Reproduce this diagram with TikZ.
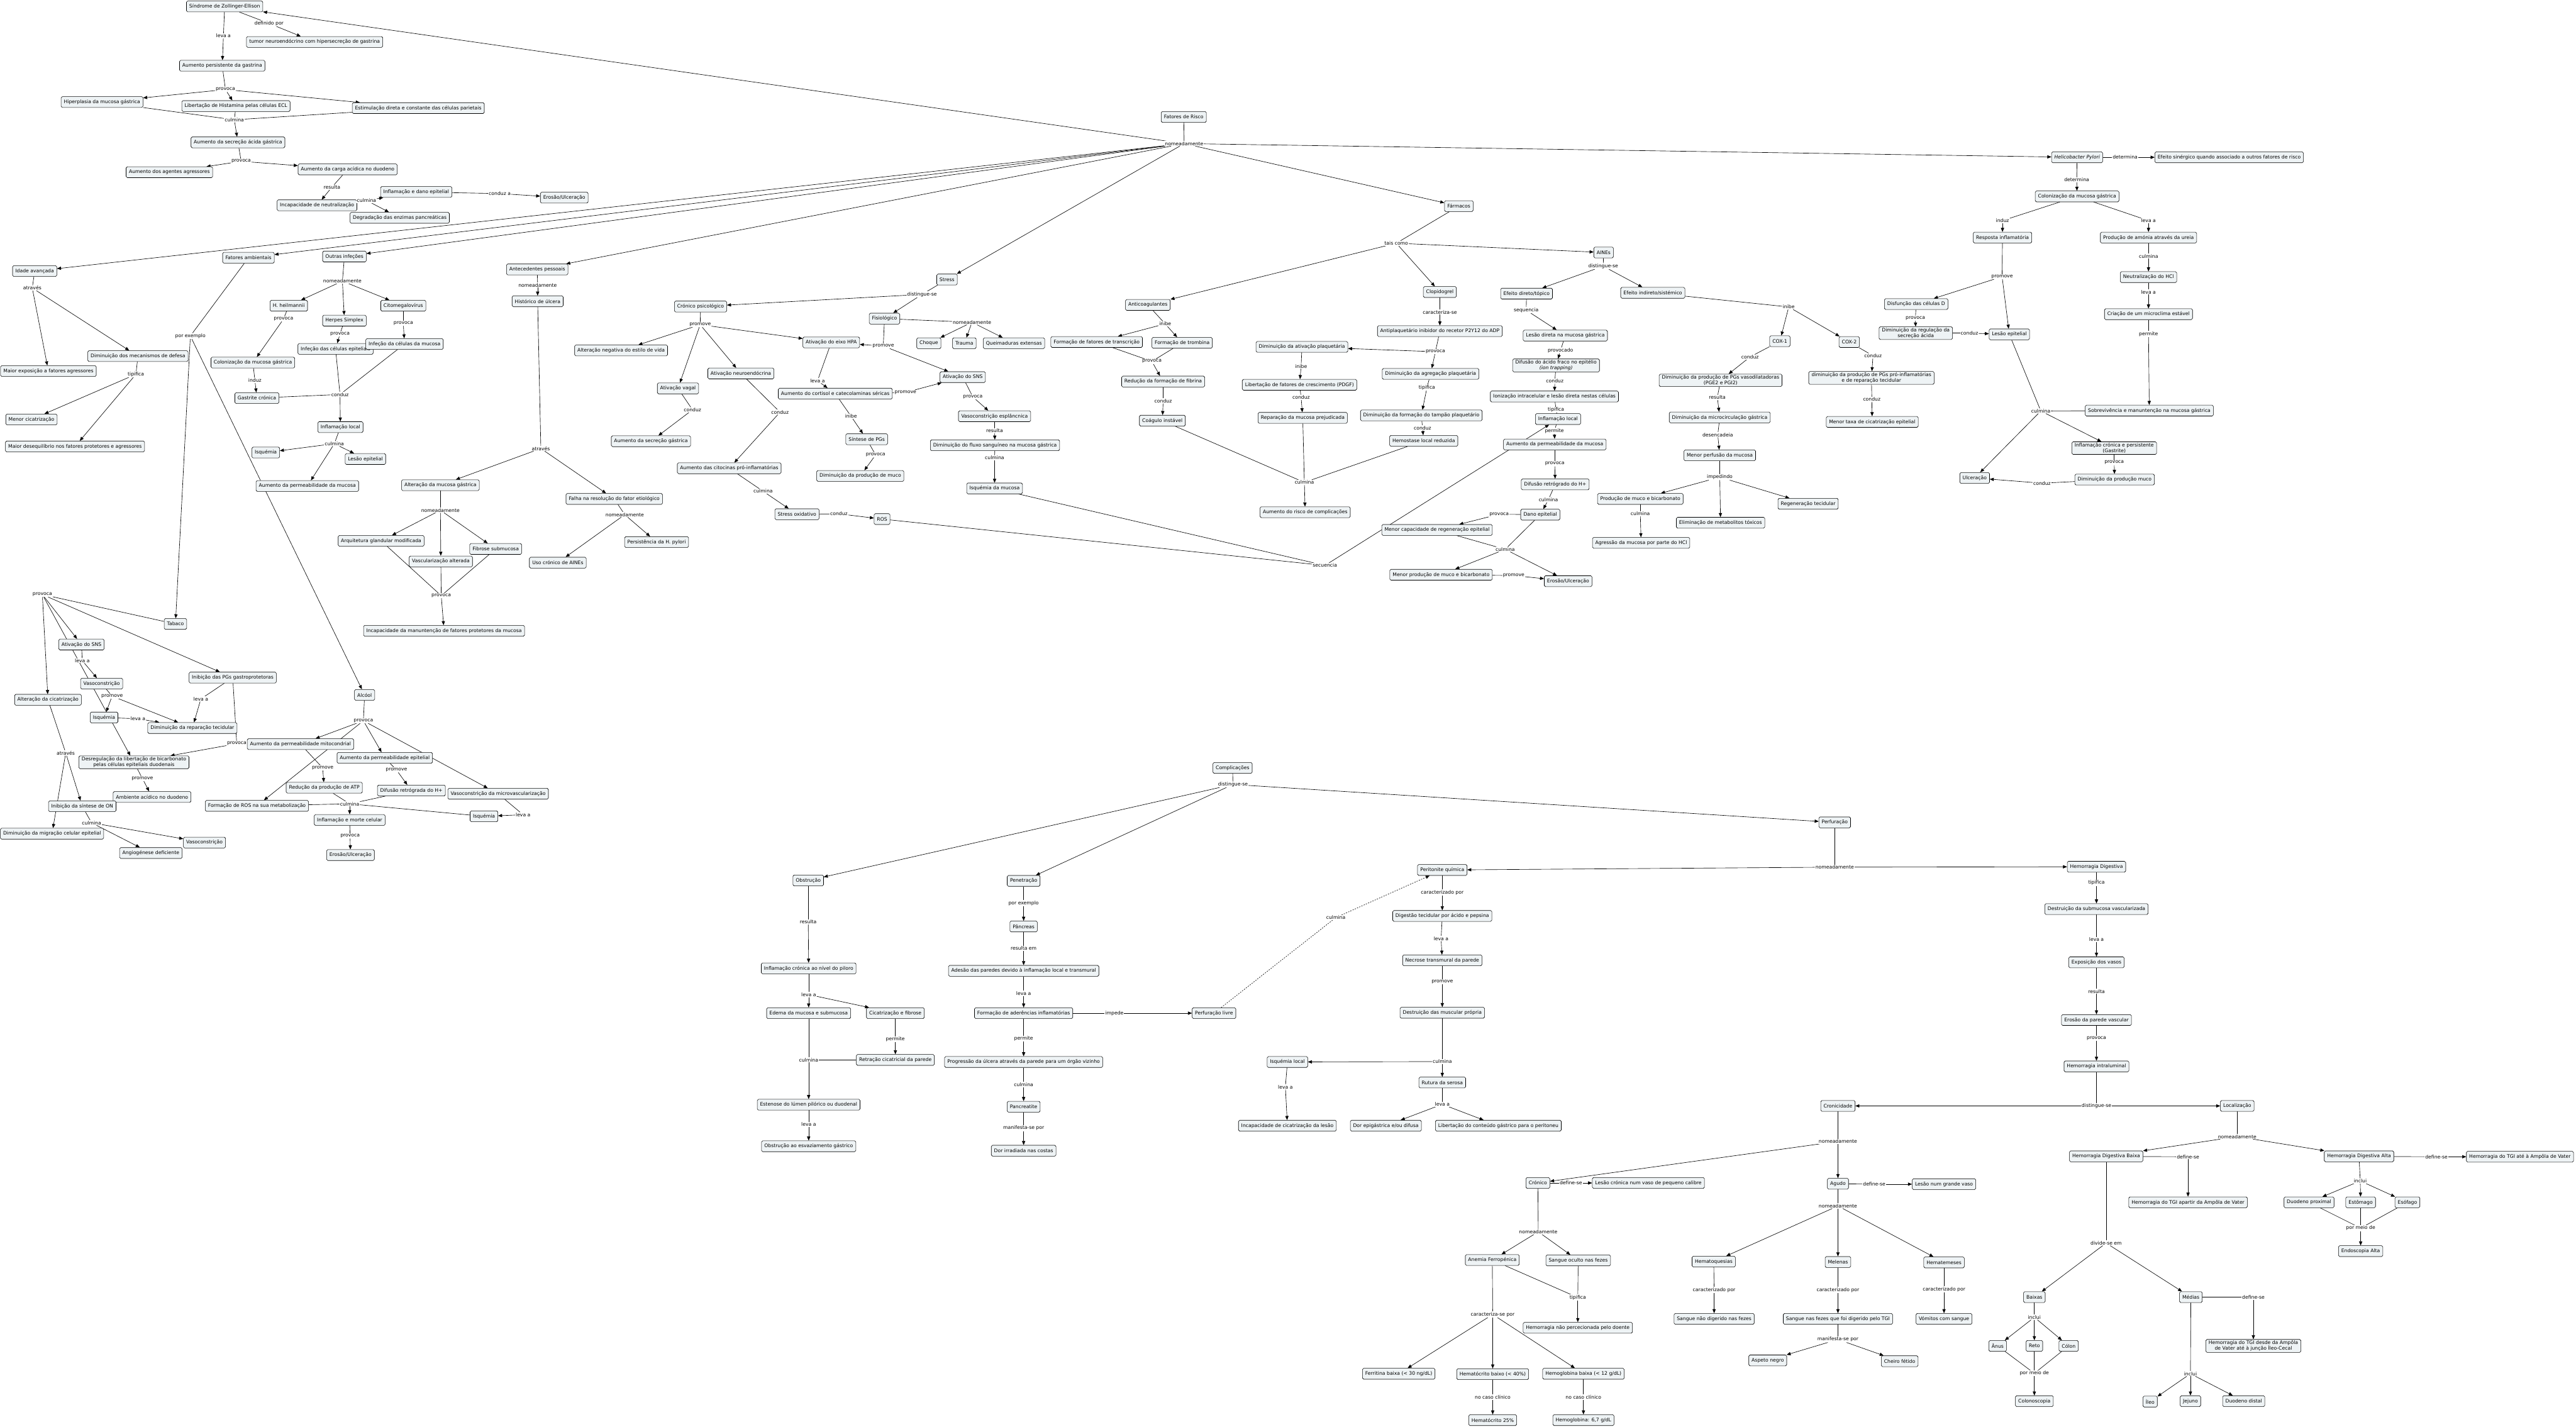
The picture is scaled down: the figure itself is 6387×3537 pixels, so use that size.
\documentclass[tikz,border=0pt]{standalone}
\usepackage{fontspec}
\setmainfont{DejaVu Sans}
\usetikzlibrary{arrows.meta}
\definecolor{cptfill}{HTML}{EEF3F5}
\pgfdeclarelayer{bg}
\pgfsetlayers{bg,main}
\tikzset{
  cpt/.style={draw, rounded corners=3pt, fill=cptfill, line width=0.9pt, inner xsep=7pt, inner ysep=3pt,
    minimum height=27pt, align=center, font=\fontsize{12}{14}\selectfont},
  lnk/.style={fill=white, inner sep=1.5pt, font=\fontsize{12}{14}\selectfont},
  con/.style={line width=1pt},
  arr/.style={line width=1pt, -{Triangle[length=10pt,width=8pt]}},
}
\begin{document}
\begin{tikzpicture}[x=1pt,y=-1pt]
\useasboundingbox (0,0) rectangle (6387,3537);
% Zollinger-Ellison
\node[cpt] (sze) at (557,16) {Síndrome de Zollinger-Ellison};
\node[lnk] (lDef) at (667,58) {definido por};
\node[cpt] (tumor) at (780,104) {tumor neuroendócrino com hipersecreção de gastrina};
\node[lnk] (lLeva1) at (554,89) {leva a};
\node[cpt] (gastr) at (551,163) {Aumento persistente da gastrina};
\node[lnk] (lProv1) at (559,222) {provoca};
\node[cpt] (hiper) at (253,253) {Hiperplasia da mucosa gástrica};
\node[cpt] (hista) at (585,263) {Libertação de Histamina pelas células ECL};
\node[cpt] (estim) at (1037,268) {Estimulação direta e constante das células parietais};
\node[lnk] (lCulm1) at (581,297) {culmina};
\node[cpt] (secr) at (590,353) {Aumento da secreção ácida gástrica};
\node[lnk] (lProv2) at (598,400) {provoca};
\node[cpt] (agress) at (420,427) {Aumento dos agentes agressores};
\node[cpt] (carga) at (862,420) {Aumento da carga acídica no duodeno};
\node[lnk] (lRes1) at (823,464) {resulta};
\node[cpt] (incap) at (786,509) {Incapacidade de neutralização};
\node[lnk] (lCulm2) at (909,497) {culmina};
\node[cpt] (infdano) at (1032,476) {Inflamação e dano epitelial};
\node[cpt] (degrad) at (991,540) {Degradação das enzimas pancreáticas};
\node[lnk] (lCond1) at (1239,480) {conduz a};
\node[cpt] (eros1) at (1399,490) {Erosão/Ulceração};
% fatores de risco
\node[cpt] (risco) at (2935,290) {Fatores de Risco};
\node[lnk] (lNom0) at (2936,356) {nomeadamente};
\node[cpt] (idade) at (86,672) {Idade avançada};
\node[lnk] (lAtr1) at (80,714) {através};
\node[cpt] (maiorexp) at (120,920) {Maior exposição a fatores agressores};
\node[cpt] (dimdef) at (342,883) {Diminuição dos mecanismos de defesa};
\node[lnk] (lTip1) at (337,928) {tipifica};
\node[cpt] (menorcic) at (78,1040) {Menor cicatrização};
\node[cpt] (deseq) at (186,1107) {Maior desequilíbrio nos fatores protetores e agressores};
\node[cpt] (ambient) at (616,639) {Fatores ambientais};
\node[lnk] (lEx1) at (472,833) {por exemplo};
\node[cpt] (outras) at (854,636) {Outras infeções};
\node[lnk] (lNom1) at (849,697) {nomeadamente};
\node[cpt] (heil) at (716,758) {H. heilmannii};
\node[cpt] (herpes) at (854,795) {Herpes Simplex};
\node[cpt] (cmv) at (1000,758) {Citomegalovírus};
\node[lnk] (lProvH) at (703,791) {provoca};
\node[cpt] (colon1) at (627,899) {Colonização da mucosa gástrica};
\node[lnk] (lProvHS) at (843,828) {provoca};
\node[cpt] (infepi) at (832,865) {Infeção das células epiteliais};
\node[lnk] (lProvC) at (1000,802) {provoca};
\node[cpt] (infmuc) at (1003,853) {Infeção da células da mucosa};
\node[lnk] (lInduz1) at (632,943) {induz};
\node[cpt] (gastcr) at (637,987) {Gastrite crónica};
\node[lnk] (lCond2) at (843,978) {conduz};
\node[cpt] (inflocA) at (844,1059) {Inflamação local};
\node[lnk] (lCulm3) at (829,1100) {culmina};
\node[cpt] (isqA1) at (659,1122) {Isquémia};
\node[cpt] (lesepA) at (906,1138) {Lesão epitelial};
\node[cpt] (permucA) at (762,1205) {Aumento da permeabilidade da mucosa};
\node[cpt] (antec) at (1332,668) {Antecedentes pessoais};
\node[lnk] (lNom2) at (1333,707) {nomeadamente};
\node[cpt] (histulc) at (1333,747) {Histórico de úlcera};
\node[lnk] (lAtr2) at (1341,1112) {através};
\node[cpt] (altmuc) at (1092,1203) {Alteração da mucosa gástrica};
\node[cpt] (falha) at (1523,1237) {Falha na resolução do fator etiológico};
\node[lnk] (lNom3) at (1092,1265) {nomeadamente};
\node[cpt] (arquit) at (945,1341) {Arquitetura glandular modificada};
\node[cpt] (vascul) at (1093,1392) {Vascularização alterada};
\node[cpt] (fibrose) at (1229,1361) {Fibrose submucosa};
\node[lnk] (lProv3) at (1094,1477) {provoca};
\node[cpt] (incapman) at (1101,1564) {Incapacidade da manuntenção de fatores protetores da mucosa};
\node[lnk] (lNom4) at (1549,1276) {nomeadamente};
\node[cpt] (usoaines) at (1383,1395) {Uso crónico de AINEs};
\node[cpt] (persist) at (1628,1344) {Persistência da H. pylori};
% stress
\node[cpt] (stress) at (2348,693) {Stress};
\node[lnk] (lDist1) at (2286,730) {distingue-se};
\node[cpt] (cronpsi) at (1737,760) {Crónico psicológico};
\node[cpt] (fisio) at (2193,790) {Fisiológico};
\node[lnk] (lNom5) at (2410,799) {nomeadamente};
\node[cpt] (choque) at (2303,851) {Choque};
\node[cpt] (trauma) at (2391,851) {Trauma};
\node[cpt] (queim) at (2514,851) {Queimaduras extensas};
\node[lnk] (lProm1) at (1736,805) {promove};
\node[cpt] (estilo) at (1540,869) {Alteração negativa do estilo de vida};
\node[cpt] (hpa) at (2061,849) {Ativação do eixo HPA};
\node[lnk] (lProm2) at (2190,858) {promove};
\node[cpt] (sns) at (2387,935) {Ativação do SNS};
\node[cpt] (vagal) at (1681,963) {Ativação vagal};
\node[cpt] (neuro) at (1837,926) {Ativação neuroendócrina};
\node[lnk] (lLeva2) at (2027,944) {leva a};
\node[cpt] (cortisol) at (2071,976) {Aumento do cortisol e catecolaminas séricas};
\node[lnk] (lProm3) at (2245,973) {promove};
\node[lnk] (lProv4) at (2412,984) {provoca};
\node[lnk] (lCond3) at (1717,1016) {conduz};
\node[cpt] (secgast) at (1614,1094) {Aumento da secreção gástrica};
\node[lnk] (lCond4) at (1934,1022) {conduz};
\node[cpt] (citoc) at (1808,1161) {Aumento das citocinas pró-inflamatórias};
\node[lnk] (lInibe1) at (2110,1032) {inibe};
\node[cpt] (sintpg) at (2149,1089) {Síntese de PGs};
\node[lnk] (lProv5) at (2171,1128) {provoca};
\node[cpt] (dimmucoS) at (2133,1180) {Diminuição da produção de muco};
\node[lnk] (lCulm4) at (1892,1218) {culmina};
\node[cpt] (stressox) at (1976,1275) {Stress oxidativo};
\node[lnk] (lCond5) at (2080,1274) {conduz};
\node[cpt] (ros) at (2187,1287) {ROS};
\node[cpt] (vasoesp) at (2466,1032) {Vasoconstrição esplâncnica};
\node[lnk] (lRes2) at (2466,1068) {resulta};
\node[cpt] (fluxo) at (2467,1104) {Diminuição do fluxo sanguíneo na mucosa gástrica};
\node[lnk] (lCulm5) at (2466,1135) {culmina};
\node[cpt] (isqmuc) at (2466,1211) {Isquémia da mucosa};
% farmacos
\node[cpt] (antic) at (2846,756) {Anticoagulantes};
\node[lnk] (lInibe2) at (2889,803) {inibe};
\node[cpt] (fattrans) at (2719,848) {Formação de fatores de transcrição};
\node[cpt] (tromb) at (2931,850) {Formação de trombina};
\node[lnk] (lProv6) at (2856,896) {provoca};
\node[cpt] (fibrina) at (2884,946) {Redução da formação de fibrina};
\node[lnk] (lCond6) at (2884,994) {conduz};
\node[cpt] (coag) at (2882,1043) {Coágulo instável};
\node[cpt] (farm) at (3617,511) {Fármacos};
\node[lnk] (lTais) at (3462,603) {tais como};
\node[cpt] (aines) at (3976,626) {AINEs};
\node[cpt] (clopi) at (3570,724) {Clopidogrel};
\node[lnk] (lCar1) at (3570,774) {caracteriza-se};
\node[cpt] (antipl) at (3570,821) {Antiplaquetário inibidor do recetor P2Y12 do ADP};
\node[lnk] (lProv7) at (3559,872) {provoca};
\node[cpt] (dimativ) at (3228,860) {Diminuição da ativação plaquetária};
\node[cpt] (dimagreg) at (3547,927) {Diminuição da agregação plaquetária};
\node[lnk] (lInibe3) at (3226,908) {inibe};
\node[cpt] (pdgf) at (3222,954) {Libertação de fatores de crescimento (PDGF)};
\node[lnk] (lCond7) at (3226,985) {conduz};
\node[cpt] (reparmuc) at (3230,1036) {Reparação da mucosa prejudicada};
\node[lnk] (lTip2) at (3538,961) {tipifica};
\node[cpt] (tampao) at (3524,1030) {Diminuição da formação do tampão plaquetário};
\node[lnk] (lCond8) at (3527,1061) {conduz};
\node[cpt] (hemost) at (3530,1093) {Hemostase local reduzida};
\node[lnk] (lCulm6) at (3234,1196) {culmina};
\node[cpt] (riscocomp) at (3236,1270) {Aumento do risco de complicações};
\node[lnk] (lDist2) at (3975,660) {distingue-se};
\node[cpt] (efdir) at (3785,728) {Efeito direto/tópico};
\node[cpt] (efind) at (4098,726) {Efeito indireto/sistémico};
\node[lnk] (lSeq) at (3784,769) {sequencia};
\node[cpt] (lesdir) at (3881,832) {Lesão direta na mucosa gástrica};
\node[lnk] (lProvd) at (3869,869) {provocado};
\node[cpt] (difacido) at (3858,906) {Difusão do ácido fraco no epitélio\\\textit{(ion trapping)}};
\node[lnk] (lCond9) at (3855,945) {conduz};
\node[cpt] (ioniz) at (3854,983) {Ionização intracelular e lesão direta nestas células};
\node[lnk] (lTip3) at (3858,1016) {tipifica};
\node[cpt] (inflocB) at (3863,1039) {Inflamação local};
\node[lnk] (lPerm1) at (3854,1068) {permite};
\node[cpt] (permucB) at (3855,1102) {Aumento da permeabilidade da mucosa};
\node[lnk] (lProv8) at (3855,1150) {provoca};
\node[cpt] (difhB) at (3856,1201) {Difusão retrógrado do H+};
\node[lnk] (lCulm7) at (3839,1239) {culmina};
\node[cpt] (dano) at (3819,1276) {Dano epitelial};
\node[lnk] (lProv9) at (3717,1275) {provoca};
\node[cpt] (menorcap) at (3563,1314) {Menor capacidade de regeneração epitelial};
\node[lnk] (lCulm8) at (3732,1362) {culmina};
\node[cpt] (menorprod) at (3573,1425) {Menor produção de muco e bicarbonato};
\node[lnk] (lProm4) at (3753,1427) {promove};
\node[cpt] (eros2) at (3888,1441) {Erosão/Ulceração};
\node[lnk] (lSecu) at (3285,1402) {secuencia};
\node[lnk] (lInibe4) at (4435,761) {inibe};
\node[cpt] (cox1) at (4413,846) {COX-1};
\node[cpt] (cox2) at (4585,848) {COX-2};
\node[lnk] (lCond10) at (4339,885) {conduz};
\node[lnk] (lCond11) at (4644,882) {conduz};
\node[cpt] (pgvaso) at (4266,943) {Diminuição da produção de PGs vasodilatadoras\\(PGE2 e PGI2)};
\node[cpt] (pgpro) at (4640,937) {diminuição da produção de PGs pró-inflamatórias\\e de reparação tecidular};
\node[lnk] (lRes3) at (4258,985) {resulta};
\node[lnk] (lCond12) at (4641,990) {conduz};
\node[cpt] (microc) at (4264,1035) {Diminuição da microcirculação gástrica};
\node[cpt] (menortaxa) at (4642,1046) {Menor taxa de cicatrização epitelial};
\node[lnk] (lDesenc) at (4259,1078) {desencadeia};
\node[cpt] (perfus) at (4264,1129) {Menor perfusão da mucosa};
\node[lnk] (lImped) at (4264,1183) {impedindo};
\node[cpt] (prodmuco) at (4067,1237) {Produção de muco e bicarbonato};
\node[cpt] (elimin) at (4266,1296) {Eliminação de metabolitos tóxicos};
\node[cpt] (regen) at (4483,1249) {Regeneração tecidular};
\node[lnk] (lCulm9) at (4067,1274) {culmina};
\node[cpt] (agressHCl) at (4069,1346) {Agressão da mucosa por parte do HCl};
% helicobacter
\node[cpt] (hpyl) at (5150,390) {\textit{Helicobacter Pylori}};
\node[lnk] (lDet1) at (5269,390) {determina};
\node[cpt] (sinerg) at (5527,390) {Efeito sinérgico quando associado a outros fatores de risco};
\node[lnk] (lDet2) at (5149,446) {determina};
\node[cpt] (colonB) at (5150,487) {Colonização da mucosa gástrica};
\node[lnk] (lInduz2) at (4965,547) {induz};
\node[cpt] (respinf) at (4965,589) {Resposta inflamatória};
\node[lnk] (lLeva3) at (5327,547) {leva a};
\node[cpt] (amonia) at (5327,589) {Produção de amónia através da ureia};
\node[lnk] (lCulm10) at (5327,635) {culmina};
\node[cpt] (neutral) at (5327,687) {Neutralização do HCl};
\node[lnk] (lLeva4) at (5327,724) {leva a};
\node[cpt] (microcl) at (5327,779) {Criação de um microclima estável};
\node[lnk] (lPerm2) at (5327,828) {permite};
\node[cpt] (sobrev) at (5329,1018) {Sobrevivência e manuntenção na mucosa gástrica};
\node[lnk] (lProm5) at (4964,686) {promove};
\node[cpt] (disfD) at (4751,754) {Disfunção das células D};
\node[lnk] (lProv10) at (4749,789) {provoca};
\node[cpt] (dimreg) at (4750,826) {Diminuição da regulação da\\secreção ácida};
\node[lnk] (lCond13) at (4883,826) {conduz};
\node[cpt] (lesepB) at (4982,829) {Lesão epitelial};
\node[lnk] (lCulm11) at (5060,1019) {culmina};
\node[cpt] (gastrite) at (5242,1111) {Inflamação crónica e persistente\\(Gastrite)};
\node[lnk] (lProv11) at (5242,1147) {provoca};
\node[cpt] (dimmucoH) at (5243,1189) {Diminuição da produção muco};
\node[lnk] (lCond14) at (5063,1198) {conduz};
\node[cpt] (ulcer) at (4896,1185) {Ulceração};
% tabaco
\node[lnk] (lProv12) at (105,1474) {provoca};
\node[cpt] (tabaco) at (435,1547) {Tabaco};
\node[cpt] (snsT) at (202,1598) {Ativação do SNS};
\node[lnk] (lLeva5) at (204,1638) {leva a};
\node[cpt] (vasoT) at (252,1695) {Vasoconstrição};
\node[cpt] (inibpg) at (577,1680) {Inibição das PGs gastroprotetoras};
\node[cpt] (altcic) at (119,1735) {Alteração da cicatrização};
\node[lnk] (lProm6) at (278,1726) {promove};
\node[cpt] (isqT) at (258,1779) {Isquémia};
\node[lnk] (lLeva6) at (342,1782) {leva a};
\node[cpt] (dimrep) at (477,1805) {Diminuição da reparação tecidular};
\node[lnk] (lLeva7) at (498,1733) {leva a};
\node[lnk] (lProv13) at (587,1844) {provoca};
\node[cpt] (desreg) at (332,1890) {Desregulação da libertação de bicarbonato\\pelas células epiteliais duodenais};
\node[lnk] (lAtr3) at (163,1867) {através};
\node[lnk] (lProm7) at (353,1930) {promove};
\node[cpt] (ambac) at (377,1976) {Ambiente acídico no duodeno};
\node[cpt] (inibON) at (204,1999) {Inibição da síntese de ON};
\node[lnk] (lCulm12) at (227,2040) {culmina};
\node[cpt] (dimmig) at (129,2067) {Diminuição da migração celular epitelial};
\node[cpt] (vasoT2) at (507,2089) {Vasoconstrição};
\node[cpt] (angio) at (374,2115) {Angiogénese deficiente};
% alcool
\node[cpt] (alcool) at (904,1723) {Alcóol};
\node[lnk] (lProv14) at (901,1787) {provoca};
\node[cpt] (permmit) at (745,1845) {Aumento da permeabilidade mitocondrial};
\node[cpt] (permepi) at (954,1879) {Aumento da permeabilidade epitelial};
\node[lnk] (lProm8) at (800,1904) {promove};
\node[lnk] (lProm9) at (983,1909) {promove};
\node[cpt] (atp) at (804,1953) {Redução da produção de ATP};
\node[cpt] (difhA) at (1020,1960) {Difusão retrógrada do H+};
\node[cpt] (vasomicro) at (1235,1968) {Vasoconstrição da microvascularização};
\node[cpt] (formros) at (637,1998) {Formação de ROS na sua metabolização};
\node[lnk] (lCulm13) at (867,1993) {culmina};
\node[cpt] (infmorte) at (867,2033) {Inflamação e morte celular};
\node[lnk] (lProv15) at (868,2073) {provoca};
\node[cpt] (eros3) at (869,2120) {Erosão/Ulceração};
\node[cpt] (isqA) at (1200,2024) {Isquémia};
\node[lnk] (lLeva8) at (1297,2020) {leva a};
% complicacoes
\node[cpt] (compl) at (3056,1904) {Complicações};
\node[lnk] (lDist3) at (3057,1945) {distingue-se};
\node[cpt] (obstr) at (2004,2183) {Obstrução};
\node[lnk] (lRes4) at (2004,2286) {resulta};
\node[cpt] (inflpil) at (2005,2401) {Inflamação crónica ao nível do piloro};
\node[lnk] (lLeva9) at (2005,2466) {leva a};
\node[cpt] (edema) at (2005,2512) {Edema da mucosa e submucosa};
\node[cpt] (cicfib) at (2220,2512) {Cicatrização e fibrose};
\node[lnk] (lPerm3) at (2220,2577) {permite};
\node[cpt] (retra) at (2220,2628) {Retração cicatricial da parede};
\node[lnk] (lCulm14) at (2005,2628) {culmina};
\node[cpt] (esten) at (2005,2739) {Estenose do lúmen pilórico ou duodenal};
\node[lnk] (lLeva10) at (2005,2788) {leva a};
\node[cpt] (obstesv) at (2005,2842) {Obstrução ao esvaziamento gástrico};
\node[cpt] (penet) at (2538,2184) {Penetração};
\node[lnk] (lEx2) at (2538,2239) {por exemplo};
\node[cpt] (pancreas) at (2538,2297) {Pâncreas};
\node[lnk] (lResEm) at (2538,2351) {resulta em};
\node[cpt] (adesao) at (2538,2407) {Adesão das paredes devido à inflamação local e transmural};
\node[lnk] (lLeva11) at (2538,2463) {leva a};
\node[cpt] (aderen) at (2538,2512) {Formação de aderências inflamatórias};
\node[lnk] (lImped2) at (2763,2512) {impede};
\node[cpt] (perflivre) at (3010,2512) {Perfuração livre};
\node[lnk] (lPerm4) at (2538,2575) {permite};
\node[cpt] (progr) at (2538,2633) {Progressão da úlcera através da parede para um órgão vizinho};
\node[lnk] (lCulm15) at (2538,2689) {culmina};
\node[cpt] (pancreat) at (2538,2744) {Pancreatite};
\node[lnk] (lManif1) at (2538,2797) {manifesta-se por};
\node[cpt] (dorirr) at (2538,2853) {Dor irradiada nas costas};
\node[lnk] (lCulm16) at (3312,2275) {culmina};
\node[cpt] (perf) at (4549,2039) {Perfuração};
\node[lnk] (lNom6) at (4549,2150) {nomeadamente};
\node[cpt] (perito) at (3576,2157) {Peritonite química};
\node[lnk] (lCar2) at (3576,2213) {caracterizado por};
\node[cpt] (digest) at (3576,2271) {Digestão tecidular por ácido e pepsina};
\node[lnk] (lLeva12) at (3573,2327) {leva a};
\node[cpt] (necrose) at (3576,2381) {Necrose transmural da parede};
\node[lnk] (lProm10) at (3576,2434) {promove};
\node[cpt] (destr) at (3576,2511) {Destruição das muscular própria};
\node[lnk] (lCulm17) at (3576,2632) {culmina};
\node[cpt] (rutura) at (3576,2684) {Rutura da serosa};
\node[cpt] (isqloc) at (3192,2633) {Isquémia local};
\node[lnk] (lLeva13) at (3187,2695) {leva a};
\node[cpt] (incapcic) at (3192,2791) {Incapacidade de cicatrização da lesão};
\node[lnk] (lLeva14) at (3576,2738) {leva a};
\node[cpt] (doreping) at (3436,2791) {Dor epigástrica e/ou difusa};
\node[cpt] (libcont) at (3715,2791) {Libertação do conteúdo gástrico para o peritoneu};
% hemorragia
\node[cpt] (hemdig) at (5198,2149) {Hemorragia Digestiva};
\node[lnk] (lTip4) at (5198,2189) {tipifica};
\node[cpt] (destsub) at (5198,2254) {Destruição da submucosa vascularizada};
\node[lnk] (lLeva15) at (5198,2329) {leva a};
\node[cpt] (expos) at (5198,2386) {Exposição dos vasos};
\node[lnk] (lRes5) at (5198,2458) {resulta};
\node[cpt] (erospar) at (5198,2529) {Erosão da parede vascular};
\node[lnk] (lProv16) at (5198,2574) {provoca};
\node[cpt] (hemintra) at (5198,2644) {Hemorragia intraluminal};
\node[lnk] (lDist4) at (5198,2742) {distingue-se};
\node[cpt] (cronic) at (4557,2742) {Cronicidade};
\node[lnk] (lNom7) at (4557,2830) {nomeadamente};
\node[cpt] (cronico) at (3813,2933) {Crónico};
\node[lnk] (lDef1) at (3895,2933) {define-se};
\node[cpt] (lescron) at (4087,2933) {Lesão crónica num vaso de pequeno calibre};
\node[cpt] (agudo) at (4557,2935) {Agudo};
\node[lnk] (lDef2) at (4647,2936) {define-se};
\node[cpt] (lesgrande) at (4820,2936) {Lesão num grande vaso};
\node[lnk] (lNom8) at (3814,3054) {nomeadamente};
\node[cpt] (anemia) at (3700,3124) {Anemia Ferropénica};
\node[cpt] (sangoc) at (3913,3125) {Sangue oculto nas fezes};
\node[lnk] (lTip5) at (3912,3217) {tipifica};
\node[cpt] (hemnper) at (3912,3292) {Hemorragia não percecionada pelo doente};
\node[lnk] (lCar3) at (3701,3259) {caracteriza-se por};
\node[cpt] (ferrit) at (3468,3406) {Ferritina baixa (< 30 ng/dL)};
\node[cpt] (hematb) at (3701,3407) {Hematócrito baixo (< 40\%)};
\node[cpt] (hemogb) at (3926,3406) {Hemoglobina baixa (< 12 g/dL)};
\node[lnk] (lCaso1) at (3701,3464) {no caso clínico};
\node[cpt] (hemat25) at (3701,3521) {Hematócrito 25\%};
\node[lnk] (lCaso2) at (3926,3464) {no caso clínico};
\node[cpt] (hemog67) at (3926,3521) {Hemoglobina: 6,7 g/dL};
\node[lnk] (lNom9) at (4557,2990) {nomeadamente};
\node[cpt] (hematoq) at (4249,3128) {Hematoquesias};
\node[cpt] (melenas) at (4557,3129) {Melenas};
\node[cpt] (hematem) at (4820,3130) {Hematemeses};
\node[lnk] (lCar4) at (4250,3198) {caracterizado por};
\node[cpt] (sangnd) at (4250,3270) {Sangue não digerido nas fezes};
\node[lnk] (lCar5) at (4557,3198) {caracterizado por};
\node[cpt] (sangdig) at (4557,3270) {Sangue nas fezes que foi digerido pelo TGI};
\node[lnk] (lManif2) at (4557,3321) {manifesta-se por};
\node[cpt] (negro) at (4383,3373) {Aspeto negro};
\node[cpt] (fetido) at (4710,3375) {Cheiro fétido};
\node[lnk] (lCar6) at (4820,3197) {caracterizado por};
\node[cpt] (vomitos) at (4820,3270) {Vómitos com sangue};
\node[cpt] (localiz) at (5547,2742) {Localização};
\node[lnk] (lNom10) at (5547,2818) {nomeadamente};
\node[cpt] (hdb) at (5222,2867) {Hemorragia Digestiva Baixa};
\node[cpt] (hda) at (5849,2867) {Hemorragia Digestiva Alta};
\node[lnk] (lDef3) at (5425,2868) {define-se};
\node[cpt] (tgiapartir) at (5425,2981) {Hemorragia do TGI apartir da Ampôla de Vater};
\node[lnk] (lDef4) at (6041,2868) {define-se};
\node[cpt] (tgiate) at (6248,2868) {Hemorragia do TGI até à Ampôla de Vater};
\node[lnk] (lInclui1) at (5852,2928) {inclui};
\node[cpt] (duoprox) at (5725,2981) {Duodeno proximal};
\node[cpt] (estom) at (5853,2981) {Estômago};
\node[cpt] (esof) at (5969,2981) {Esófago};
\node[lnk] (lPorMeio1) at (5853,3045) {por meio de};
\node[cpt] (endosc) at (5853,3102) {Endoscopia Alta};
\node[lnk] (lDivide) at (5222,3082) {divide-se em};
\node[cpt] (baixas) at (5044,3216) {Baixas};
\node[cpt] (medias) at (5432,3216) {Médias};
\node[lnk] (lDef5) at (5587,3216) {define-se};
\node[cpt] (tgidesde) at (5587,3337) {Hemorragia do TGI desde da Ampôla\\de Vater até à junção Íleo-Cecal};
\node[lnk] (lInclui2) at (5044,3266) {inclui};
\node[cpt] (anus) at (4953,3337) {Ânus};
\node[cpt] (reto) at (5044,3337) {Reto};
\node[cpt] (colon) at (5129,3337) {Cólon};
\node[lnk] (lPorMeio2) at (5044,3405) {por meio de};
\node[cpt] (colonosc) at (5044,3474) {Colonoscopia};
\node[lnk] (lInclui3) at (5431,3406) {inclui};
\node[cpt] (ileo) at (5331,3475) {Íleo};
\node[cpt] (jejuno) at (5431,3474) {Jejuno};
\node[cpt] (duodist) at (5563,3474) {Duodeno distal};

\begin{pgfonlayer}{bg}
\fill[white] (0,0) rectangle (6387,3537);
\draw[con] (sze) -- (lDef); \draw[arr] (lDef) -- (tumor);
\draw[con] (sze) -- (lLeva1); \draw[arr] (lLeva1) -- (gastr);
\draw[con] (gastr) -- (lProv1);
\foreach \tg in {hiper,hista,estim} \draw[arr] (lProv1) -- (\tg);
\foreach \sr in {hiper,hista,estim} \draw[con] (\sr) -- (lCulm1);
\draw[arr] (lCulm1) -- (secr);
\draw[con] (secr) -- (lProv2);
\foreach \tg in {agress,carga} \draw[arr] (lProv2) -- (\tg);
\draw[con] (carga) -- (lRes1); \draw[arr] (lRes1) -- (incap);
\draw[con] (incap) -- (lCulm2);
\foreach \tg in {infdano,degrad} \draw[arr] (lCulm2) -- (\tg);
\draw[con] (infdano) -- (lCond1); \draw[arr] (lCond1) -- (eros1);
\draw[con] (risco) -- (lNom0);
\foreach \tg in {sze,idade,ambient,outras,antec,stress,farm,hpyl} \draw[arr] (lNom0) -- (\tg);
\draw[con] (idade) -- (lAtr1);
\foreach \tg in {maiorexp,dimdef} \draw[arr] (lAtr1) -- (\tg);
\draw[con] (dimdef) -- (lTip1);
\foreach \tg in {menorcic,deseq} \draw[arr] (lTip1) -- (\tg);
\draw[con] (ambient) -- (lEx1);
\foreach \tg in {tabaco,alcool} \draw[arr] (lEx1) -- (\tg);
\draw[con] (outras) -- (lNom1);
\foreach \tg in {heil,herpes,cmv} \draw[arr] (lNom1) -- (\tg);
\draw[con] (heil) -- (lProvH); \draw[arr] (lProvH) -- (colon1);
\draw[con] (herpes) -- (lProvHS); \draw[arr] (lProvHS) -- (infepi);
\draw[con] (cmv) -- (lProvC); \draw[arr] (lProvC) -- (infmuc);
\draw[con] (colon1) -- (lInduz1); \draw[arr] (lInduz1) -- (gastcr);
\foreach \sr in {gastcr,infepi,infmuc} \draw[con] (\sr) -- (lCond2);
\draw[arr] (lCond2) -- (inflocA);
\draw[con] (inflocA) -- (lCulm3);
\foreach \tg in {isqA1,lesepA,permucA} \draw[arr] (lCulm3) -- (\tg);
\draw[con] (antec) -- (lNom2); \draw[arr] (lNom2) -- (histulc);
\draw[con] (histulc) -- (lAtr2);
\foreach \tg in {altmuc,falha} \draw[arr] (lAtr2) -- (\tg);
\draw[con] (altmuc) -- (lNom3);
\foreach \tg in {arquit,vascul,fibrose} \draw[arr] (lNom3) -- (\tg);
\foreach \sr in {arquit,vascul,fibrose} \draw[con] (\sr) -- (lProv3);
\draw[arr] (lProv3) -- (incapman);
\draw[con] (falha) -- (lNom4);
\foreach \tg in {usoaines,persist} \draw[arr] (lNom4) -- (\tg);
\draw[con] (stress) -- (lDist1);
\foreach \tg in {cronpsi,fisio} \draw[arr] (lDist1) -- (\tg);
\draw[con] (cronpsi) -- (lProm1);
\foreach \tg in {estilo,vagal,neuro,hpa} \draw[arr] (lProm1) -- (\tg);
\draw[con] (fisio) -- (lNom5);
\foreach \tg in {choque,trauma,queim} \draw[arr] (lNom5) -- (\tg);
\draw[con] (fisio) -- (lProm2);
\foreach \tg in {hpa,sns} \draw[arr] (lProm2) -- (\tg);
\draw[con] (hpa) -- (lLeva2); \draw[arr] (lLeva2) -- (cortisol);
\draw[con] (cortisol) -- (lProm3); \draw[arr] (lProm3) -- (sns);
\draw[con] (sns) -- (lProv4); \draw[arr] (lProv4) -- (vasoesp);
\draw[con] (vagal) -- (lCond3); \draw[arr] (lCond3) -- (secgast);
\draw[con] (neuro) -- (lCond4); \draw[arr] (lCond4) -- (citoc);
\draw[con] (cortisol) -- (lInibe1); \draw[arr] (lInibe1) -- (sintpg);
\draw[con] (sintpg) -- (lProv5); \draw[arr] (lProv5) -- (dimmucoS);
\draw[con] (citoc) -- (lCulm4); \draw[arr] (lCulm4) -- (stressox);
\draw[con] (stressox) -- (lCond5); \draw[arr] (lCond5) -- (ros);
\draw[con] (vasoesp) -- (lRes2); \draw[arr] (lRes2) -- (fluxo);
\draw[con] (fluxo) -- (lCulm5); \draw[arr] (lCulm5) -- (isqmuc);
\foreach \sr in {ros,isqmuc} \draw[con] (\sr) -- (lSecu);
\draw[arr] (lSecu) -- (inflocB);
\draw[con] (farm) -- (lTais);
\foreach \tg in {antic,clopi,aines} \draw[arr] (lTais) -- (\tg);
\draw[con] (antic) -- (lInibe2);
\foreach \tg in {fattrans,tromb} \draw[arr] (lInibe2) -- (\tg);
\foreach \sr in {fattrans,tromb} \draw[con] (\sr) -- (lProv6);
\draw[arr] (lProv6) -- (fibrina);
\draw[con] (fibrina) -- (lCond6); \draw[arr] (lCond6) -- (coag);
\draw[con] (clopi) -- (lCar1); \draw[arr] (lCar1) -- (antipl);
\draw[con] (antipl) -- (lProv7);
\foreach \tg in {dimativ,dimagreg} \draw[arr] (lProv7) -- (\tg);
\draw[con] (dimativ) -- (lInibe3); \draw[arr] (lInibe3) -- (pdgf);
\draw[con] (pdgf) -- (lCond7); \draw[arr] (lCond7) -- (reparmuc);
\draw[con] (dimagreg) -- (lTip2); \draw[arr] (lTip2) -- (tampao);
\draw[con] (tampao) -- (lCond8); \draw[arr] (lCond8) -- (hemost);
\foreach \sr in {reparmuc,hemost,coag} \draw[con] (\sr) -- (lCulm6);
\draw[arr] (lCulm6) -- (riscocomp);
\draw[con] (aines) -- (lDist2);
\foreach \tg in {efdir,efind} \draw[arr] (lDist2) -- (\tg);
\draw[con] (efdir) -- (lSeq); \draw[arr] (lSeq) -- (lesdir);
\draw[con] (lesdir) -- (lProvd); \draw[arr] (lProvd) -- (difacido);
\draw[con] (difacido) -- (lCond9); \draw[arr] (lCond9) -- (ioniz);
\draw[con] (ioniz) -- (lTip3); \draw[arr] (lTip3) -- (inflocB);
\draw[con] (inflocB) -- (lPerm1); \draw[arr] (lPerm1) -- (permucB);
\draw[con] (permucB) -- (lProv8); \draw[arr] (lProv8) -- (difhB);
\draw[con] (difhB) -- (lCulm7); \draw[arr] (lCulm7) -- (dano);
\draw[con] (dano) -- (lProv9); \draw[arr] (lProv9) -- (menorcap);
\foreach \sr in {dano,menorcap} \draw[con] (\sr) -- (lCulm8);
\foreach \tg in {menorprod,eros2} \draw[arr] (lCulm8) -- (\tg);
\draw[con] (menorprod) -- (lProm4); \draw[arr] (lProm4) -- (eros2);
\draw[con] (efind) -- (lInibe4);
\foreach \tg in {cox1,cox2} \draw[arr] (lInibe4) -- (\tg);
\draw[con] (cox1) -- (lCond10); \draw[arr] (lCond10) -- (pgvaso);
\draw[con] (cox2) -- (lCond11); \draw[arr] (lCond11) -- (pgpro);
\draw[con] (pgvaso) -- (lRes3); \draw[arr] (lRes3) -- (microc);
\draw[con] (pgpro) -- (lCond12); \draw[arr] (lCond12) -- (menortaxa);
\draw[con] (microc) -- (lDesenc); \draw[arr] (lDesenc) -- (perfus);
\draw[con] (perfus) -- (lImped);
\foreach \tg in {prodmuco,elimin,regen} \draw[arr] (lImped) -- (\tg);
\draw[con] (prodmuco) -- (lCulm9); \draw[arr] (lCulm9) -- (agressHCl);
\draw[con] (hpyl) -- (lDet1); \draw[arr] (lDet1) -- (sinerg);
\draw[con] (hpyl) -- (lDet2); \draw[arr] (lDet2) -- (colonB);
\draw[con] (colonB) -- (lInduz2); \draw[arr] (lInduz2) -- (respinf);
\draw[con] (colonB) -- (lLeva3); \draw[arr] (lLeva3) -- (amonia);
\draw[con] (amonia) -- (lCulm10); \draw[arr] (lCulm10) -- (neutral);
\draw[con] (neutral) -- (lLeva4); \draw[arr] (lLeva4) -- (microcl);
\draw[con] (microcl) -- (lPerm2); \draw[arr] (lPerm2) -- (sobrev);
\draw[con] (respinf) -- (lProm5);
\foreach \tg in {disfD,lesepB} \draw[arr] (lProm5) -- (\tg);
\draw[con] (disfD) -- (lProv10); \draw[arr] (lProv10) -- (dimreg);
\draw[con] (dimreg) -- (lCond13); \draw[arr] (lCond13) -- (lesepB);
\foreach \sr in {lesepB,sobrev} \draw[con] (\sr) -- (lCulm11);
\foreach \tg in {ulcer,gastrite} \draw[arr] (lCulm11) -- (\tg);
\draw[con] (gastrite) -- (lProv11); \draw[arr] (lProv11) -- (dimmucoH);
\draw[con] (dimmucoH) -- (lCond14); \draw[arr] (lCond14) -- (ulcer);
\draw[con] (tabaco) -- (lProv12);
\foreach \tg in {snsT,altcic,inibpg,desreg} \draw[arr] (lProv12) -- (\tg);
\draw[con] (snsT) -- (lLeva5); \draw[arr] (lLeva5) -- (vasoT);
\draw[con] (vasoT) -- (lProm6);
\foreach \tg in {isqT,dimrep} \draw[arr] (lProm6) -- (\tg);
\draw[con] (isqT) -- (lLeva6); \draw[arr] (lLeva6) -- (dimrep);
\draw[con] (inibpg) -- (lLeva7); \draw[arr] (lLeva7) -- (dimrep);
\draw[con] (inibpg) -- (lProv13); \draw[arr] (lProv13) -- (desreg);
\draw[con] (desreg) -- (lProm7); \draw[arr] (lProm7) -- (ambac);
\draw[con] (altcic) -- (lAtr3);
\foreach \tg in {inibON,dimmig} \draw[arr] (lAtr3) -- (\tg);
\draw[con] (inibON) -- (lCulm12);
\foreach \tg in {vasoT2,angio} \draw[arr] (lCulm12) -- (\tg);
\draw[con] (alcool) -- (lProv14);
\foreach \tg in {permmit,permepi,vasomicro,formros} \draw[arr] (lProv14) -- (\tg);
\draw[con] (permmit) -- (lProm8); \draw[arr] (lProm8) -- (atp);
\draw[con] (permepi) -- (lProm9); \draw[arr] (lProm9) -- (difhA);
\foreach \sr in {atp,formros,difhA,isqA} \draw[con] (\sr) -- (lCulm13);
\draw[arr] (lCulm13) -- (infmorte);
\draw[con] (vasomicro) -- (lLeva8); \draw[arr] (lLeva8) -- (isqA);
\draw[con] (infmorte) -- (lProv15); \draw[arr] (lProv15) -- (eros3);
\draw[con] (compl) -- (lDist3);
\foreach \tg in {obstr,penet,perf} \draw[arr] (lDist3) -- (\tg);
\draw[con] (obstr) -- (lRes4); \draw[arr] (lRes4) -- (inflpil);
\draw[con] (inflpil) -- (lLeva9);
\foreach \tg in {edema,cicfib} \draw[arr] (lLeva9) -- (\tg);
\draw[con] (cicfib) -- (lPerm3); \draw[arr] (lPerm3) -- (retra);
\foreach \sr in {edema,retra} \draw[con] (\sr) -- (lCulm14);
\draw[arr] (lCulm14) -- (esten);
\draw[con] (esten) -- (lLeva10); \draw[arr] (lLeva10) -- (obstesv);
\draw[con] (penet) -- (lEx2); \draw[arr] (lEx2) -- (pancreas);
\draw[con] (pancreas) -- (lResEm); \draw[arr] (lResEm) -- (adesao);
\draw[con] (adesao) -- (lLeva11); \draw[arr] (lLeva11) -- (aderen);
\draw[con] (aderen) -- (lImped2); \draw[arr] (lImped2) -- (perflivre);
\draw[con] (aderen) -- (lPerm4); \draw[arr] (lPerm4) -- (progr);
\draw[con] (progr) -- (lCulm15); \draw[arr] (lCulm15) -- (pancreat);
\draw[con] (pancreat) -- (lManif1); \draw[arr] (lManif1) -- (dorirr);
\draw[con,dashed] (perflivre) -- (lCulm16); \draw[arr,dashed] (lCulm16) -- (perito);
\draw[con] (perf) -- (lNom6);
\foreach \tg in {perito,hemdig} \draw[arr] (lNom6) -- (\tg);
\draw[con] (perito) -- (lCar2); \draw[arr] (lCar2) -- (digest);
\draw[con] (digest) -- (lLeva12); \draw[arr] (lLeva12) -- (necrose);
\draw[con] (necrose) -- (lProm10); \draw[arr] (lProm10) -- (destr);
\draw[con] (destr) -- (lCulm17);
\foreach \tg in {rutura,isqloc} \draw[arr] (lCulm17) -- (\tg);
\draw[con] (isqloc) -- (lLeva13); \draw[arr] (lLeva13) -- (incapcic);
\draw[con] (rutura) -- (lLeva14);
\foreach \tg in {doreping,libcont} \draw[arr] (lLeva14) -- (\tg);
\draw[con] (hemdig) -- (lTip4); \draw[arr] (lTip4) -- (destsub);
\draw[con] (destsub) -- (lLeva15); \draw[arr] (lLeva15) -- (expos);
\draw[con] (expos) -- (lRes5); \draw[arr] (lRes5) -- (erospar);
\draw[con] (erospar) -- (lProv16); \draw[arr] (lProv16) -- (hemintra);
\draw[con] (hemintra) -- (lDist4);
\foreach \tg in {cronic,localiz} \draw[arr] (lDist4) -- (\tg);
\draw[con] (cronic) -- (lNom7);
\foreach \tg in {cronico,agudo} \draw[arr] (lNom7) -- (\tg);
\draw[con] (cronico) -- (lDef1); \draw[arr] (lDef1) -- (lescron);
\draw[con] (agudo) -- (lDef2); \draw[arr] (lDef2) -- (lesgrande);
\draw[con] (cronico) -- (lNom8);
\foreach \tg in {anemia,sangoc} \draw[arr] (lNom8) -- (\tg);
\foreach \sr in {anemia,sangoc} \draw[con] (\sr) -- (lTip5);
\draw[arr] (lTip5) -- (hemnper);
\draw[con] (anemia) -- (lCar3);
\foreach \tg in {ferrit,hematb,hemogb} \draw[arr] (lCar3) -- (\tg);
\draw[con] (hematb) -- (lCaso1); \draw[arr] (lCaso1) -- (hemat25);
\draw[con] (hemogb) -- (lCaso2); \draw[arr] (lCaso2) -- (hemog67);
\draw[con] (agudo) -- (lNom9);
\foreach \tg in {hematoq,melenas,hematem} \draw[arr] (lNom9) -- (\tg);
\draw[con] (hematoq) -- (lCar4); \draw[arr] (lCar4) -- (sangnd);
\draw[con] (melenas) -- (lCar5); \draw[arr] (lCar5) -- (sangdig);
\draw[con] (sangdig) -- (lManif2);
\foreach \tg in {negro,fetido} \draw[arr] (lManif2) -- (\tg);
\draw[con] (hematem) -- (lCar6); \draw[arr] (lCar6) -- (vomitos);
\draw[con] (localiz) -- (lNom10);
\foreach \tg in {hdb,hda} \draw[arr] (lNom10) -- (\tg);
\draw[con] (hdb) -- (lDef3); \draw[arr] (lDef3) -- (tgiapartir);
\draw[con] (hda) -- (lDef4); \draw[arr] (lDef4) -- (tgiate);
\draw[con] (hda) -- (lInclui1);
\foreach \tg in {duoprox,estom,esof} \draw[arr] (lInclui1) -- (\tg);
\foreach \sr in {duoprox,estom,esof} \draw[con] (\sr) -- (lPorMeio1);
\draw[arr] (lPorMeio1) -- (endosc);
\draw[con] (hdb) -- (lDivide);
\foreach \tg in {baixas,medias} \draw[arr] (lDivide) -- (\tg);
\draw[con] (medias) -- (lDef5); \draw[arr] (lDef5) -- (tgidesde);
\draw[con] (baixas) -- (lInclui2);
\foreach \tg in {anus,reto,colon} \draw[arr] (lInclui2) -- (\tg);
\foreach \sr in {anus,reto,colon} \draw[con] (\sr) -- (lPorMeio2);
\draw[arr] (lPorMeio2) -- (colonosc);
\draw[con] (medias) -- (lInclui3);
\foreach \tg in {ileo,jejuno,duodist} \draw[arr] (lInclui3) -- (\tg);
\end{pgfonlayer}
\end{tikzpicture}
\end{document}
